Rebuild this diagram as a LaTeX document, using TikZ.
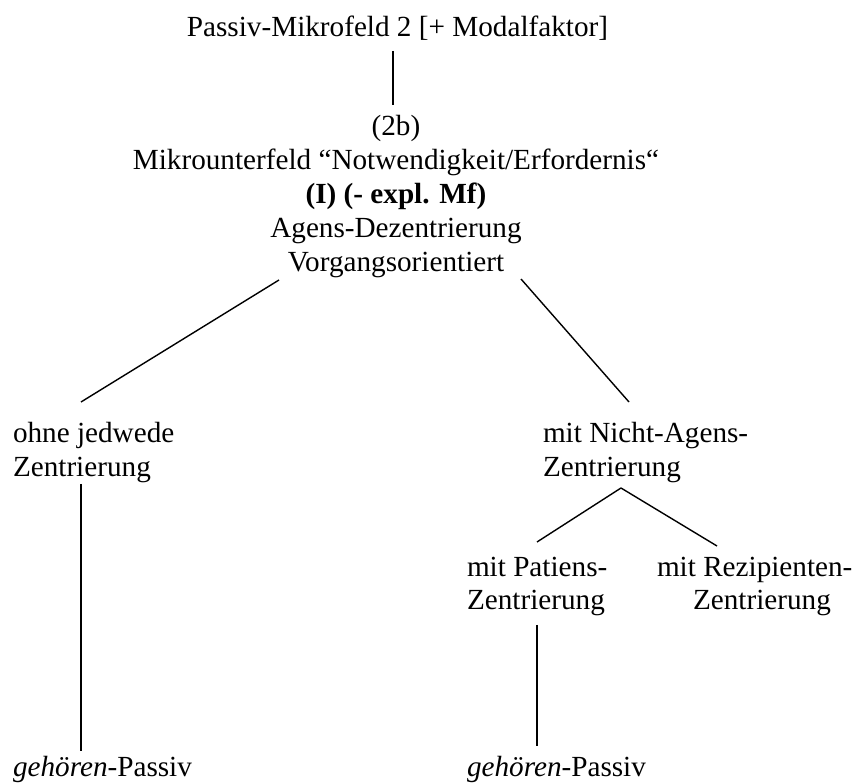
\documentclass[tikz,border=0pt]{standalone}
\usepackage{fontspec}
\setmainfont{Liberation Serif}
\usetikzlibrary{calc}

\tikzset{
  lbl/.style={inner sep=0pt, outer sep=0pt, font=\fontsize{29.2}{34}\selectfont},
  edge/.style={draw=black, line width=1.4pt}
}

\begin{document}
\begin{tikzpicture}[x=1pt, y=-1pt]
  \useasboundingbox (0,0) rectangle (855,783);

  % root and the central description block (base = baseline of the last line)
  \node[lbl, anchor=base] (top) at (397.5,37) {Passiv-Mikrofeld 2 [+ Modalfaktor]};
  \node[lbl, anchor=base, align=center] (blk) at (396,272)
    {(2b)\\Mikrounterfeld “Notwendigkeit/Erfordernis“\\\textbf{(I) (- expl. Mf)}\\Agens-Dezentrierung\\Vorgangsorientiert};

  % second level
  \node[lbl, anchor=base west, align=left] (ohne) at (13,477) {ohne jedwede\\Zentrierung};
  \node[lbl, anchor=base west, align=left] (nicht) at (543,477) {mit Nicht-Agens-\\Zentrierung};

  % third level
  \node[lbl, anchor=base west, align=left] (pat) at (467,610) {mit Patiens-\\Zentrierung};
  \node[lbl, anchor=base west, align=left] (rez) at (657,610) {mit Rezipienten-\\\hspace*{36pt}Zentrierung};

  % leaves
  \node[lbl, anchor=base west] (gL) at (13,776) {\textit{gehören}-Passiv};
  \node[lbl, anchor=base west] (gR) at (467,776) {\textit{gehören}-Passiv};

  % connectors
  \draw[edge] ($(top.base)+(-4.5,14)$) -- ($(blk.base)+(-3,-167)$);
  \draw[edge] ($(blk.base)+(-117,8)$) -- ($(ohne.base west)+(68,-75)$);
  \draw[edge] ($(blk.base)+(125,7)$) -- ($(nicht.base west)+(86,-75)$);
  \draw[edge] ($(ohne.base west)+(68,7)$) -- ($(gL.base west)+(68,-25)$);
  \draw[edge] ($(nicht.base west)+(78,11)$) -- ($(pat.base west)+(70,-68)$);
  \draw[edge] ($(nicht.base west)+(78,11)$) -- ($(rez.base west)+(60,-64)$);
  \draw[edge] ($(pat.base west)+(70,15)$) -- ($(gR.base west)+(70,-30)$);
\end{tikzpicture}
\end{document}
